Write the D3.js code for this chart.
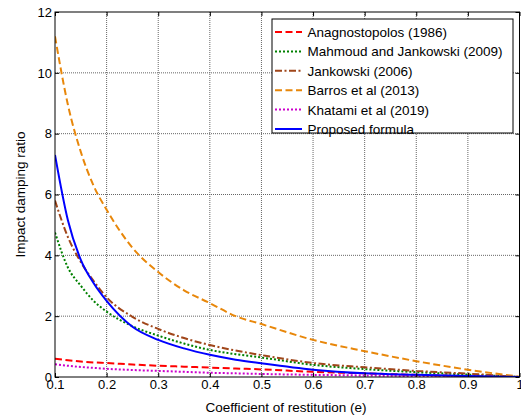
<!DOCTYPE html>
<html>
  <head>
    <meta charset="utf-8">
    <title>Impact damping ratio</title>
    <script src="https://d3js.org/d3.v7.min.js"></script>
    <style>
      body { margin: 0; background: #fff; }
      text { font-family: Arial, "Liberation Sans", sans-serif; fill: #000; }
    </style>
  </head>
  <body>
    <svg id="chart" width="521" height="419"></svg>
    <script>
// coefficient of restitution samples
var restitution = [0.1, 0.125, 0.15, 0.175, 0.2, 0.25, 0.3, 0.35, 0.4, 0.45, 0.5, 0.6, 0.7, 0.8, 0.9, 1.0];

// values
var anagnostopolos = [0.6, 0.55, 0.51, 0.48, 0.46, 0.41, 0.37, 0.34, 0.31, 0.28, 0.25, 0.17, 0.12, 0.07, 0.03, 0];
var mahmoudJankowski = [4.75, 3.6, 3.0, 2.5, 2.15, 1.67, 1.36, 1.1, 0.89, 0.75, 0.64, 0.4, 0.26, 0.16, 0.08, 0];
var jankowski = [5.8, 4.6, 3.78, 3.15, 2.62, 1.98, 1.58, 1.28, 1.05, 0.87, 0.72, 0.46, 0.32, 0.2, 0.11, 0];
var barros = [11.2, 8.95, 7.4, 6.28, 5.5, 4.25, 3.45, 2.85, 2.43, 2.0, 1.74, 1.22, 0.85, 0.52, 0.24, 0.01];
var khatami = [0.42, 0.37, 0.33, 0.3, 0.27, 0.23, 0.2, 0.17, 0.14, 0.12, 0.1, 0.07, 0.05, 0.03, 0.01, 0];
var proposed = [7.3, 5.15, 3.85, 3.08, 2.5, 1.65, 1.22, 0.94, 0.73, 0.57, 0.45, 0.24, 0.12, 0.07, 0.03, 0];

var xTicks = [0.1, 0.2, 0.3, 0.4, 0.5, 0.6, 0.7, 0.8, 0.9, 1];
var yTicks = [0, 2, 4, 6, 8, 10, 12];

var series = [
  { name: "Anagnostopolos (1986)", values: anagnostopolos, color: "#ff0000", dash: "7,3.5" },
  { name: "Mahmoud and Jankowski (2009)", values: mahmoudJankowski, color: "#008000", dash: "2,2" },
  { name: "Jankowski (2006)", values: jankowski, color: "#a0461a", dash: "7,2.5,2,2.5" },
  { name: "Barros et al (2013)", values: barros, color: "#e8870a", dash: "7,3.5" },
  { name: "Khatami et al (2019)", values: khatami, color: "#cc00cc", dash: "2,2" },
  { name: "Proposed formula", values: proposed, color: "#0000ff", dash: null }
];

var plotLeft = 55, plotRight = 519.5, plotTop = 12, plotBottom = 377;

var svg = d3.select("#chart");

var x = d3.scaleLinear().domain([0.1, 1]).range([plotLeft, plotRight]);
var y = d3.scaleLinear().domain([0, 12]).range([plotBottom, plotTop]);

// grid
var grid = svg.append("g");
grid.selectAll(".gx")
  .data(xTicks.slice(1, -1))
  .enter().append("line")
  .attr("x1", function(d) { return x(d); })
  .attr("x2", function(d) { return x(d); })
  .attr("y1", plotTop).attr("y2", plotBottom)
  .attr("stroke", "#666").attr("stroke-width", 1).attr("stroke-dasharray", "1,1");
grid.selectAll(".gy")
  .data(yTicks.slice(1, -1))
  .enter().append("line")
  .attr("y1", function(d) { return y(d); })
  .attr("y2", function(d) { return y(d); })
  .attr("x1", plotLeft).attr("x2", plotRight)
  .attr("stroke", "#666").attr("stroke-width", 1).attr("stroke-dasharray", "1,1");

// curves
svg.append("defs").append("clipPath").attr("id", "clip")
  .append("rect").attr("x", plotLeft).attr("y", plotTop)
  .attr("width", plotRight - plotLeft).attr("height", plotBottom - plotTop);

var line = d3.line()
  .x(function(d) { return x(d[0]); })
  .y(function(d) { return y(d[1]); })
  .curve(d3.curveMonotoneX);

svg.append("g").attr("clip-path", "url(#clip)")
  .selectAll("path")
  .data(series)
  .enter().append("path")
  .attr("d", function(s) { return line(d3.zip(restitution, s.values)); })
  .attr("fill", "none")
  .attr("stroke", function(s) { return s.color; })
  .attr("stroke-width", 2)
  .attr("stroke-dasharray", function(s) { return s.dash; });

// axes (MATLAB style: ticks inside, on all four sides)
var xAxis = d3.axisBottom(x).tickValues(xTicks).tickSizeInner(-4).tickSizeOuter(0).tickPadding(2.5)
  .tickFormat(d3.format(".1~f"));
var gx = svg.append("g").attr("transform", "translate(0," + plotBottom + ")").call(xAxis);
gx.selectAll("text").style("font-size", "13px");

var yAxis = d3.axisLeft(y).tickValues(yTicks).tickSizeInner(-4).tickSizeOuter(0).tickPadding(3);
var gy = svg.append("g").attr("transform", "translate(" + plotLeft + ",0)").call(yAxis);
gy.selectAll("text").style("font-size", "13px");

svg.append("g").attr("transform", "translate(0," + plotTop + ")")
  .call(d3.axisTop(x).tickValues(xTicks).tickSizeInner(-4).tickSizeOuter(0).tickFormat(""));
svg.append("g").attr("transform", "translate(" + plotRight + ",0)")
  .call(d3.axisRight(y).tickValues(yTicks).tickSizeInner(-4).tickSizeOuter(0).tickFormat(""));

svg.selectAll(".domain").remove();
svg.selectAll(".tick line").attr("stroke", "#000");

svg.append("rect")
  .attr("x", plotLeft).attr("y", plotTop)
  .attr("width", plotRight - plotLeft).attr("height", plotBottom - plotTop)
  .attr("fill", "none").attr("stroke", "#000").attr("stroke-width", 1);

// axis labels
svg.append("text")
  .attr("x", 286).attr("y", 412)
  .attr("text-anchor", "middle").style("font-size", "13.5px")
  .text("Coefficient of restitution (e)");

svg.append("text")
  .attr("transform", "translate(25," + (plotTop + plotBottom) / 2 + ") rotate(-90)")
  .attr("text-anchor", "middle").style("font-size", "13.5px")
  .text("Impact damping ratio");

// legend
var legend = svg.append("g");
legend.append("rect")
  .attr("x", 272).attr("y", 19).attr("width", 241).attr("height", 114)
  .attr("fill", "#fff").attr("stroke", "#000").attr("stroke-width", 1);

var items = legend.selectAll(".item")
  .data(series)
  .enter().append("g")
  .attr("transform", function(d, i) { return "translate(0," + (32 + i * 19.4) + ")"; });

items.append("line")
  .attr("x1", 275).attr("x2", 302).attr("y1", 0).attr("y2", 0)
  .attr("stroke", function(s) { return s.color; })
  .attr("stroke-width", 2)
  .attr("stroke-dasharray", function(s) { return s.dash; });

items.append("text")
  .attr("x", 307.5).attr("y", 5)
  .style("font-size", "13.5px")
  .text(function(s) { return s.name; });
    </script>
  </body>
</html>
